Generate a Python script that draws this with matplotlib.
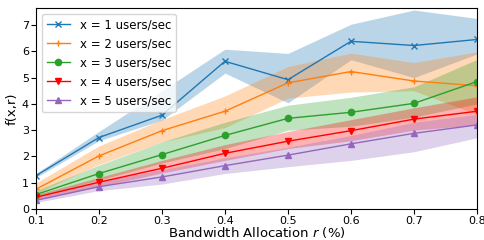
import numpy as np
import matplotlib
matplotlib.use('Agg')
import matplotlib.pyplot as plt

r = [0.1, 0.2, 0.3, 0.4, 0.5, 0.6, 0.7, 0.8]
rates = [1, 2, 3, 4, 5]

f1 = [1.27, 2.72, 3.57, 5.62, 4.92, 6.38, 6.22, 6.45]
f1_lo = [1.20, 2.60, 3.38, 5.17, 4.04, 5.68, 5.00, 5.90]
f1_hi = [1.35, 2.95, 4.50, 6.08, 5.92, 7.03, 7.57, 7.25]

f2 = [0.75, 2.02, 2.98, 3.72, 4.80, 5.23, 4.87, 4.69]
f2_lo = [0.60, 1.70, 2.55, 3.10, 4.22, 4.45, 4.50, 3.60]
f2_hi = [0.99, 2.40, 3.40, 4.30, 5.42, 5.93, 5.57, 5.98]

f3 = [0.55, 1.35, 2.07, 2.80, 3.45, 3.68, 4.02, 4.85]
f3_lo = [0.45, 1.10, 1.75, 2.30, 3.00, 3.15, 3.50, 4.00]
f3_hi = [0.70, 1.67, 2.55, 3.30, 3.95, 4.25, 4.65, 5.69]

f4 = [0.45, 1.02, 1.55, 2.12, 2.58, 2.98, 3.42, 3.72]
f4_lo = [0.35, 0.85, 1.37, 1.85, 2.30, 2.60, 3.00, 3.20]
f4_hi = [0.55, 1.20, 1.85, 2.45, 2.95, 3.40, 3.85, 4.27]

f5 = [0.33, 0.85, 1.22, 1.65, 2.05, 2.48, 2.88, 3.20]
f5_lo = [0.25, 0.70, 0.95, 1.35, 1.61, 1.85, 2.18, 2.71]
f5_hi = [0.45, 1.05, 1.50, 1.95, 2.35, 2.80, 3.30, 3.60]

means = [f1, f2, f3, f4, f5]
lows = [f1_lo, f2_lo, f3_lo, f4_lo, f5_lo]
highs = [f1_hi, f2_hi, f3_hi, f4_hi, f5_hi]
colors = ['tab:blue', 'tab:orange', 'tab:green', 'red', 'tab:purple']
markers = ['x', '+', 'o', 'v', '^']

fig = plt.figure(figsize=(4.85, 2.4), dpi=100)
ax = fig.add_axes([0.074, 0.129, 0.9095, 0.838])

for k in range(5):
    ax.fill_between(r, lows[k], highs[k], color=colors[k], alpha=0.3, linewidth=0)
    ax.plot(r, means[k], color=colors[k], marker=markers[k], markersize=4.5,
            linewidth=1.0, label='x = %d users/sec' % rates[k])

ax.set_xlim(0.1, 0.8)
ax.set_ylim(0, 7.65)
ax.set_xticks(r)
ax.set_yticks(range(8))
ax.tick_params(labelsize=8, pad=1.5)
ax.set_xlabel('Bandwidth Allocation $r$ (%)', fontsize=9.5, labelpad=-0.5)
ax.set_ylabel('f(x,r)', fontsize=9.5, labelpad=2)
ax.legend(loc='upper left', fontsize=8.5)

fig.savefig('out.png', dpi=100)
